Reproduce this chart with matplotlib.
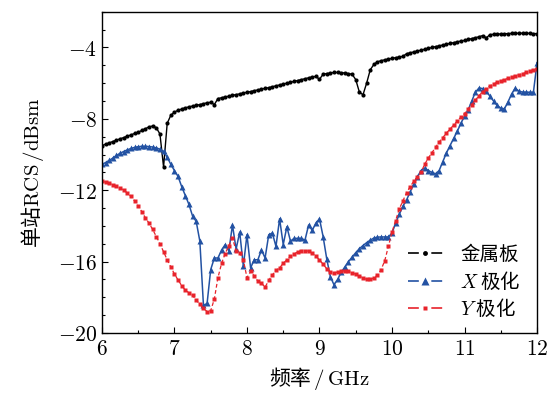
import numpy as np
import matplotlib
matplotlib.use('Agg')
import matplotlib.pyplot as plt
from matplotlib.lines import Line2D
from matplotlib.ticker import MultipleLocator, FuncFormatter

plt.rcParams['font.family'] = ['Noto Sans CJK SC', 'DejaVu Sans']
plt.rcParams['mathtext.fontset'] = 'cm'

# frequency grid (GHz), 0.05 GHz step
freq = np.round(np.arange(6.0, 12.0001, 0.05), 2)

# 金属板 (metal plate)
rcs_metal = [
    -9.50, -9.42, -9.35, -9.27, -9.20, -9.12, -9.05, -8.97, -8.90, -8.82,
    -8.75, -8.65, -8.55, -8.45, -8.40, -8.50, -8.85, -10.70, -8.25, -7.80,
    -7.62, -7.52, -7.45, -7.38, -7.33, -7.28, -7.24, -7.20, -7.15, -7.10,
    -7.07, -7.20, -6.86, -6.82, -6.77, -6.73, -6.68, -6.64, -6.60, -6.55,
    -6.51, -6.47, -6.42, -6.38, -6.33, -6.29, -6.25, -6.20, -6.15, -6.10,
    -6.05, -6.00, -5.95, -5.90, -5.85, -5.80, -5.75, -5.70, -5.65, -5.62,
    -5.78, -5.50, -5.46, -5.43, -5.40, -5.40, -5.41, -5.43, -5.46, -5.50,
    -5.80, -6.50, -6.65, -6.00, -5.25, -4.95, -4.80, -4.74, -4.69, -4.65,
    -4.61, -4.57, -4.53, -4.50, -4.35, -4.30, -4.25, -4.20, -4.15, -4.10,
    -4.05, -4.00, -3.95, -3.91, -3.86, -3.82, -3.77, -3.73, -3.68, -3.64,
    -3.60, -3.55, -3.50, -3.45, -3.40, -3.33, -3.46, -3.28, -3.26, -3.25,
    -3.24, -3.23, -3.22, -3.21, -3.21, -3.20, -3.20, -3.20, -3.21, -3.22,
    -3.22,
]

# X 极化
rcs_x = [
    -10.55, -10.45, -10.33, -10.20, -10.05, -9.93, -9.83, -9.74, -9.66, -9.60,
    -9.56, -9.54, -9.54, -9.55, -9.58, -9.63, -9.70, -9.82, -10.15, -10.55,
    -10.90, -11.23, -11.80, -12.30, -12.80, -13.45, -13.75, -14.85, -18.45, -18.35,
    -16.45, -15.80, -15.80, -15.35, -15.05, -15.40, -13.95, -15.30, -14.35, -16.25,
    -14.50, -16.35, -15.90, -15.90, -15.35, -15.80, -14.50, -14.40, -15.15, -13.60,
    -15.05, -14.05, -14.85, -14.70, -14.70, -14.70, -14.80, -13.95, -14.25, -13.85,
    -13.60, -14.60, -15.85, -16.85, -17.30, -17.00, -16.60, -16.30, -16.00, -15.75,
    -15.50, -15.28, -15.10, -14.94, -14.80, -14.68, -14.63, -14.62, -14.62, -14.62,
    -14.40, -13.85, -13.35, -12.90, -12.55, -12.10, -11.65, -11.25, -10.90, -10.76,
    -10.90, -11.00, -11.08, -10.90, -10.40, -9.92, -9.50, -9.10, -8.70, -8.25,
    -7.85, -7.50, -7.00, -6.50, -6.27, -6.30, -6.45, -6.73, -7.00, -7.25,
    -7.40, -7.44, -7.05, -6.60, -6.28, -6.45, -6.50, -6.50, -6.51, -6.51,
    -4.85,
]

# Y 极化
rcs_y = [
    -11.50, -11.55, -11.62, -11.70, -11.78, -11.88, -12.00, -12.15, -12.35, -12.60,
    -12.88, -13.20, -13.55, -13.85, -14.20, -14.60, -15.00, -15.45, -15.90, -16.30,
    -16.70, -17.03, -17.35, -17.60, -17.75, -17.90, -18.15, -18.40, -18.62, -18.80,
    -18.75, -18.10, -16.90, -16.10, -15.55, -15.10, -14.70, -15.38, -15.50, -15.90,
    -16.90, -16.55, -16.80, -17.10, -17.20, -17.44, -17.05, -16.75, -16.50, -16.35,
    -16.10, -15.90, -15.70, -15.58, -15.45, -15.38, -15.38, -15.42, -15.52, -15.70,
    -15.90, -16.15, -16.40, -16.57, -16.62, -16.60, -16.55, -16.52, -16.55, -16.62,
    -16.72, -16.82, -16.92, -17.00, -17.00, -16.92, -16.75, -16.45, -15.95, -15.15,
    -14.35, -13.70, -13.05, -12.60, -12.15, -11.80, -11.50, -11.25, -11.00, -10.55,
    -10.20, -9.90, -9.60, -9.30, -9.05, -8.80, -8.57, -8.35, -8.12, -7.90,
    -7.70, -7.45, -7.20, -6.95, -6.70, -6.48, -6.30, -6.15, -6.04, -5.95,
    -5.87, -5.80, -5.73, -5.66, -5.59, -5.53, -5.46, -5.40, -5.33, -5.25,
    -5.18,
]

labels = ['金属板', r'$X$ 极化', r'$Y$ 极化']
c_metal, c_x, c_y = 'black', '#2352a3', '#e8232b'

fig = plt.figure(figsize=(5.48, 3.94), dpi=100)
ax = fig.add_axes([0.186, 0.155, 0.794, 0.815])

ax.plot(freq, rcs_metal, color=c_metal, lw=1.0, marker='o', ms=3.0, mec='none')
ax.plot(freq, rcs_x, color=c_x, lw=1.1, marker='^', ms=4.8, mec='none')
ax.plot(freq, rcs_y, color=c_y, lw=0.9, ls=(0, (3, 2)), marker='s', ms=3.0, mec='none')

ax.set_xlim(6, 12)
ax.set_ylim(-20, -2)
ax.xaxis.set_major_locator(MultipleLocator(1))
ax.xaxis.set_minor_locator(MultipleLocator(0.5))
ax.yaxis.set_major_locator(MultipleLocator(4))
ax.yaxis.set_minor_locator(MultipleLocator(1))
fmt = FuncFormatter(lambda v, p: f'${v:g}$')
ax.xaxis.set_major_formatter(fmt)
ax.yaxis.set_major_formatter(fmt)
ax.tick_params(which='both', direction='in', labelsize=15.5)
ax.tick_params(which='major', length=4, width=0.8)
ax.tick_params(which='minor', length=2.5, width=0.8)
ax.tick_params(axis='x', pad=4)
for s in ax.spines.values():
    s.set_linewidth(1.0)

ax.set_xlabel(r'频率$\,/\,\mathrm{GHz}$', fontsize=15, labelpad=3)
ax.set_ylabel(r'单站$\mathrm{RCS\,/dBsm}$', fontsize=15, labelpad=8)

dash = (0, (6.5, 7.5))
handles = [
    Line2D([], [], color=c_metal, lw=1.2, ls=dash, marker='o', ms=3.5, mec='none'),
    Line2D([], [], color=c_x, lw=1.2, ls=dash, marker='^', ms=5.5, mec='none'),
    Line2D([], [], color=c_y, lw=1.2, ls=dash, marker='s', ms=3.5, mec='none'),
]
ax.legend(handles, labels, loc='lower right', bbox_to_anchor=(0.99, 0.003),
          frameon=False, fontsize=14, handlelength=1.8, handletextpad=0.9,
          labelspacing=0.28, numpoints=1, borderaxespad=0.2)

fig.savefig('out.png', dpi=100)
